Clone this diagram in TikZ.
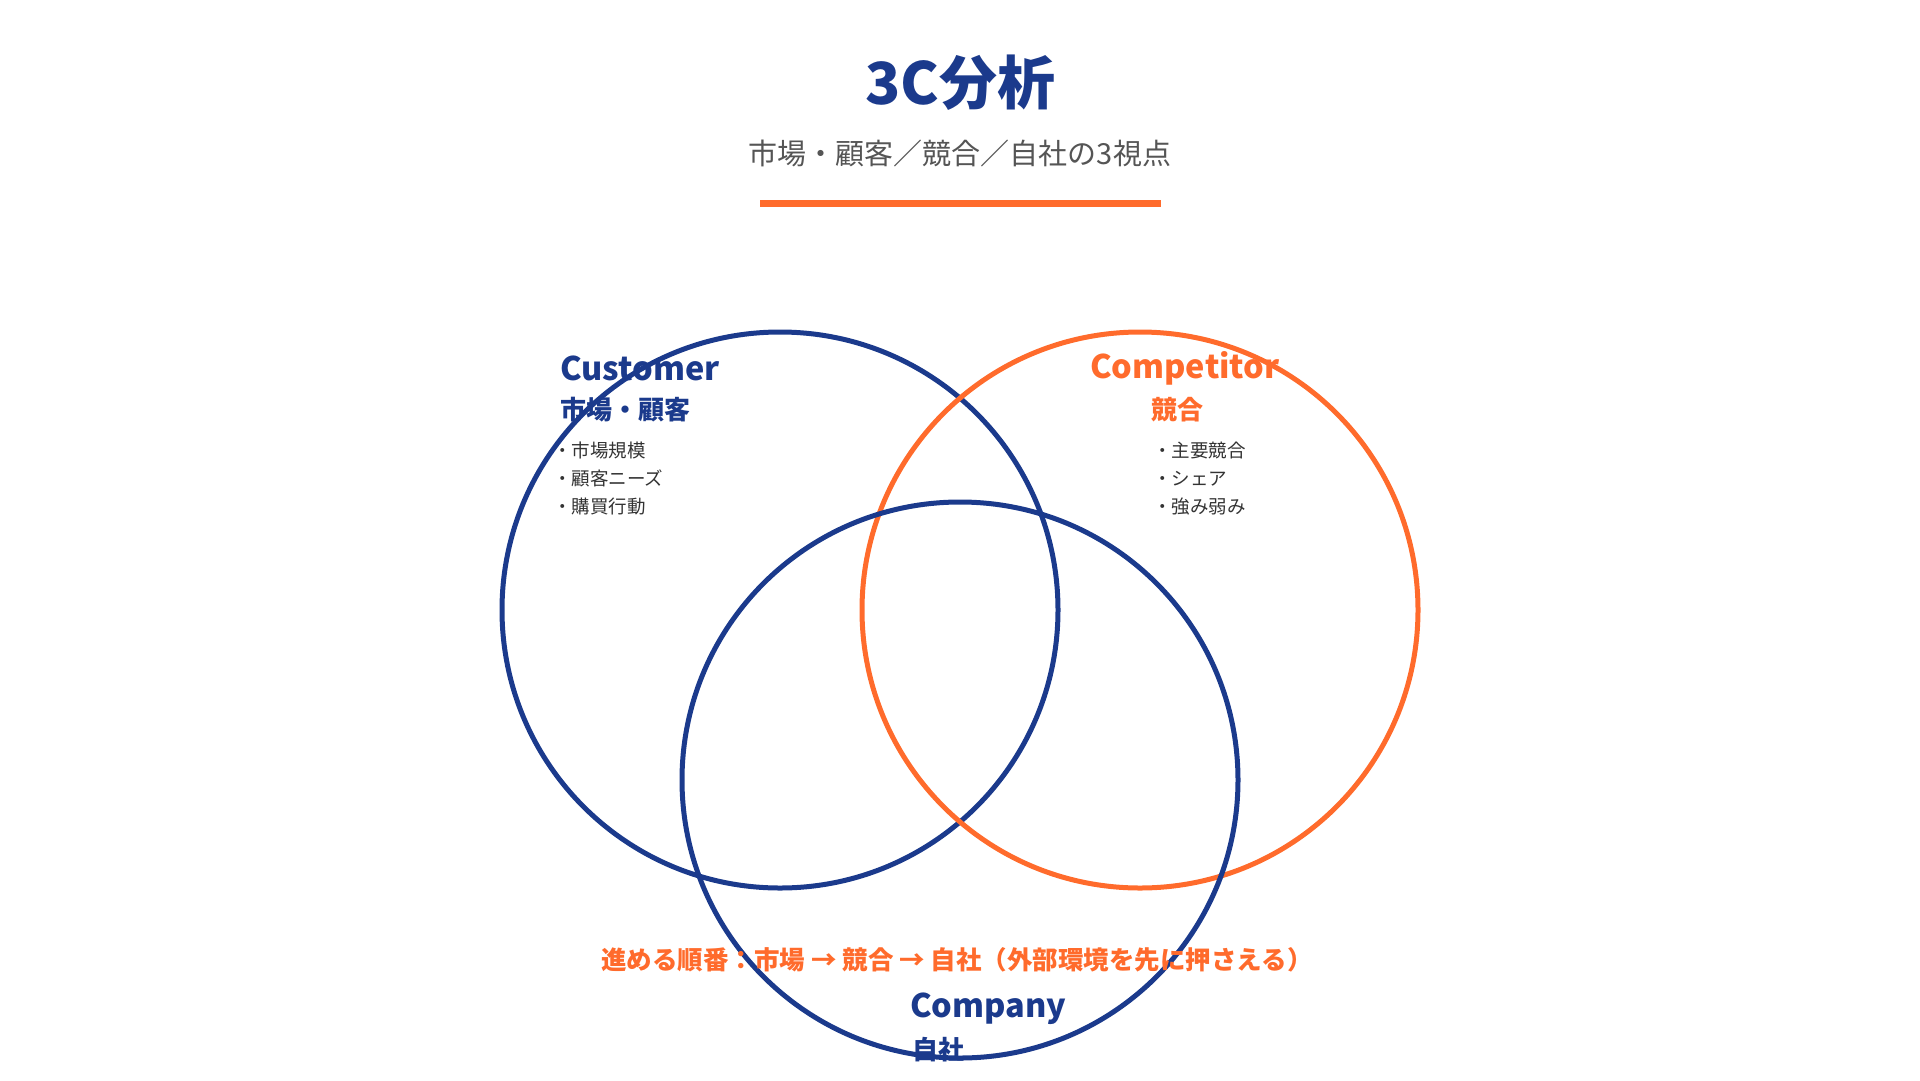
\documentclass[tikz,border=0pt]{standalone}
\usepackage{fontspec}
\setmainfont{Noto Sans CJK JP}
\usetikzlibrary{positioning}
\definecolor{navy}{HTML}{1B3A8C}
\definecolor{accent}{HTML}{FF6B2C}
\definecolor{grayText}{HTML}{555555}
\tikzset{
  ring/.style={line width=5pt},
  head/.style={font=\fontsize{32.5}{36}\selectfont\bfseries, anchor=west, inner sep=0pt},
  sub/.style={font=\fontsize{26}{30}\selectfont\bfseries, anchor=west, inner sep=0pt},
  items/.style={font=\fontsize{18.5}{28}\selectfont, text=black!80, anchor=north west,
                align=left, inner sep=0pt},
}
\begin{document}
\begin{tikzpicture}[x=1pt, y=-1pt]
  \useasboundingbox (0,0) rectangle (1920,1080);

  %% Title block
  \node[font=\fontsize{58}{64}\selectfont\bfseries, text=navy] (title) at (960,83) {3C分析};
  \node[font=\fontsize{29}{34}\selectfont, text=grayText] (subtitle) at (960,153)
        {市場・顧客／競合／自社の3視点};
  \fill[accent] (760,199.5) rectangle (1161,206.5);

  %% Circles
  \draw[ring, navy]   (780,610) circle (278);
  \draw[ring, accent] (1140,610) circle (278);
  \draw[ring, navy]   (960,780) circle (278);

  %% Customer
  \node[head, text=navy] (cust) at (560,368) {Customer};
  \node[sub, text=navy] (custJa) at (560,410) {市場・顧客};
  \node[items] (custList) at (553,442) {・市場規模\\・顧客ニーズ\\・購買行動};

  %% Competitor
  \node[head, text=accent] (comp) at (1090,368) {Competitor};
  \node[sub, text=accent] (compJa) at (1151,410) {競合};
  \node[items] (compList) at (1153,442) {・主要競合\\・シェア\\・強み弱み};

  %% Company
  \node[head, text=navy] (cmpy) at (910,1009) {Company};
  \node[sub, text=navy] (cmpyJa) at (912,1050) {自社};

  %% Order note
  \node[font=\fontsize{25.5}{30}\selectfont\bfseries, text=accent] (note) at (957,960)
        {進める順番：市場 → 競合 → 自社（外部環境を先に押さえる）};
\end{tikzpicture}
\end{document}
